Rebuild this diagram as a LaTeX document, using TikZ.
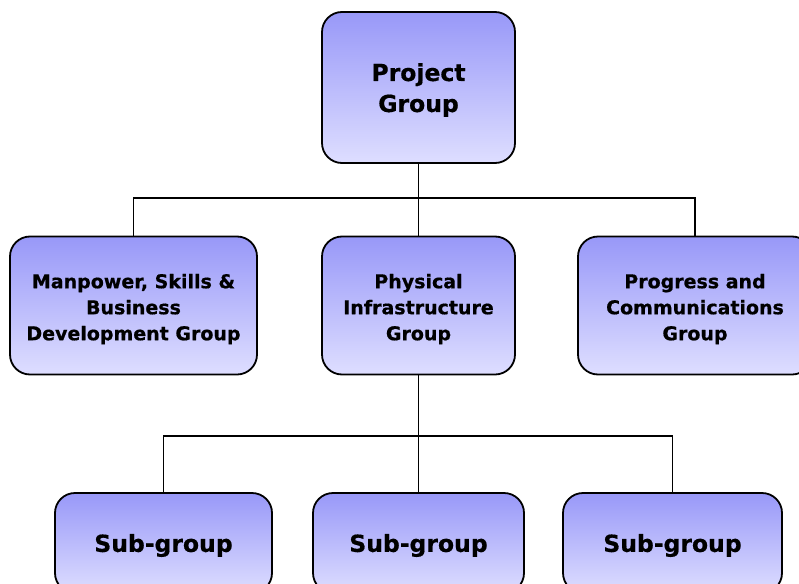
\documentclass[tikz,border=0pt]{standalone}
\usepackage{fontspec}
\setmainfont{DejaVu Sans}[BoldFeatures={FakeBold=0.6}]
\begin{document}
\begin{tikzpicture}[x=1pt,y=-1pt,
  orgbox/.style={draw=black, line width=1.8pt, rounded corners=20pt,
    top color=boxtop, bottom color=boxbottom, inner sep=0pt},
  bigtext/.style={align=center, inner sep=0pt, yshift=-2.5pt,
    font=\fontsize{23.5}{31}\selectfont\bfseries},
  midtext/.style={align=center, inner sep=0pt, yshift=-3.5pt,
    font=\fontsize{19}{26}\selectfont\bfseries},
  link/.style={draw=black, line width=1.8pt}]
\definecolor{boxtop}{RGB}{152,152,248}
\definecolor{boxbottom}{RGB}{222,222,255}
\useasboundingbox (0,0) rectangle (799,583);
\clip (0,0) rectangle (799,583);

% top level
\node[orgbox, minimum width=193pt, minimum height=151pt,
  label={[bigtext]center:Project\\Group}] (pg) at (418.5,87.5) {};

% second level
\node[orgbox, minimum width=247pt, minimum height=138pt,
  label={[midtext]center:Manpower, Skills \&\\Business\\Development Group}] (ml) at (133.5,305.5) {};
\node[orgbox, minimum width=193pt, minimum height=138pt,
  label={[midtext]center:Physical\\Infrastructure\\Group}] (mm) at (418.5,305.5) {};
\node[orgbox, minimum width=234pt, minimum height=138pt,
  label={[midtext]center:Progress and\\Communications\\Group}] (mr) at (695,305.5) {};

% third level
\node[orgbox, minimum width=217pt, minimum height=100pt,
  label={[bigtext]center:Sub-group}] (s1) at (163.5,543) {};
\node[orgbox, minimum width=211pt, minimum height=100pt,
  label={[bigtext]center:Sub-group}] (s2) at (418.5,543) {};
\node[orgbox, minimum width=219pt, minimum height=100pt,
  label={[bigtext]center:Sub-group}] (s3) at (672.5,543) {};

% connectors
\coordinate (j1) at (418.5,198);
\coordinate (j2) at (418.5,436);
\draw[link] (pg.south) -- (mm.north);
\draw[link] (ml.north) |- (j1) -| (mr.north);
\draw[link] (mm.south) -- (s2.north);
\draw[link] (s1.north) |- (j2) -| (s3.north);
\end{tikzpicture}
\end{document}
